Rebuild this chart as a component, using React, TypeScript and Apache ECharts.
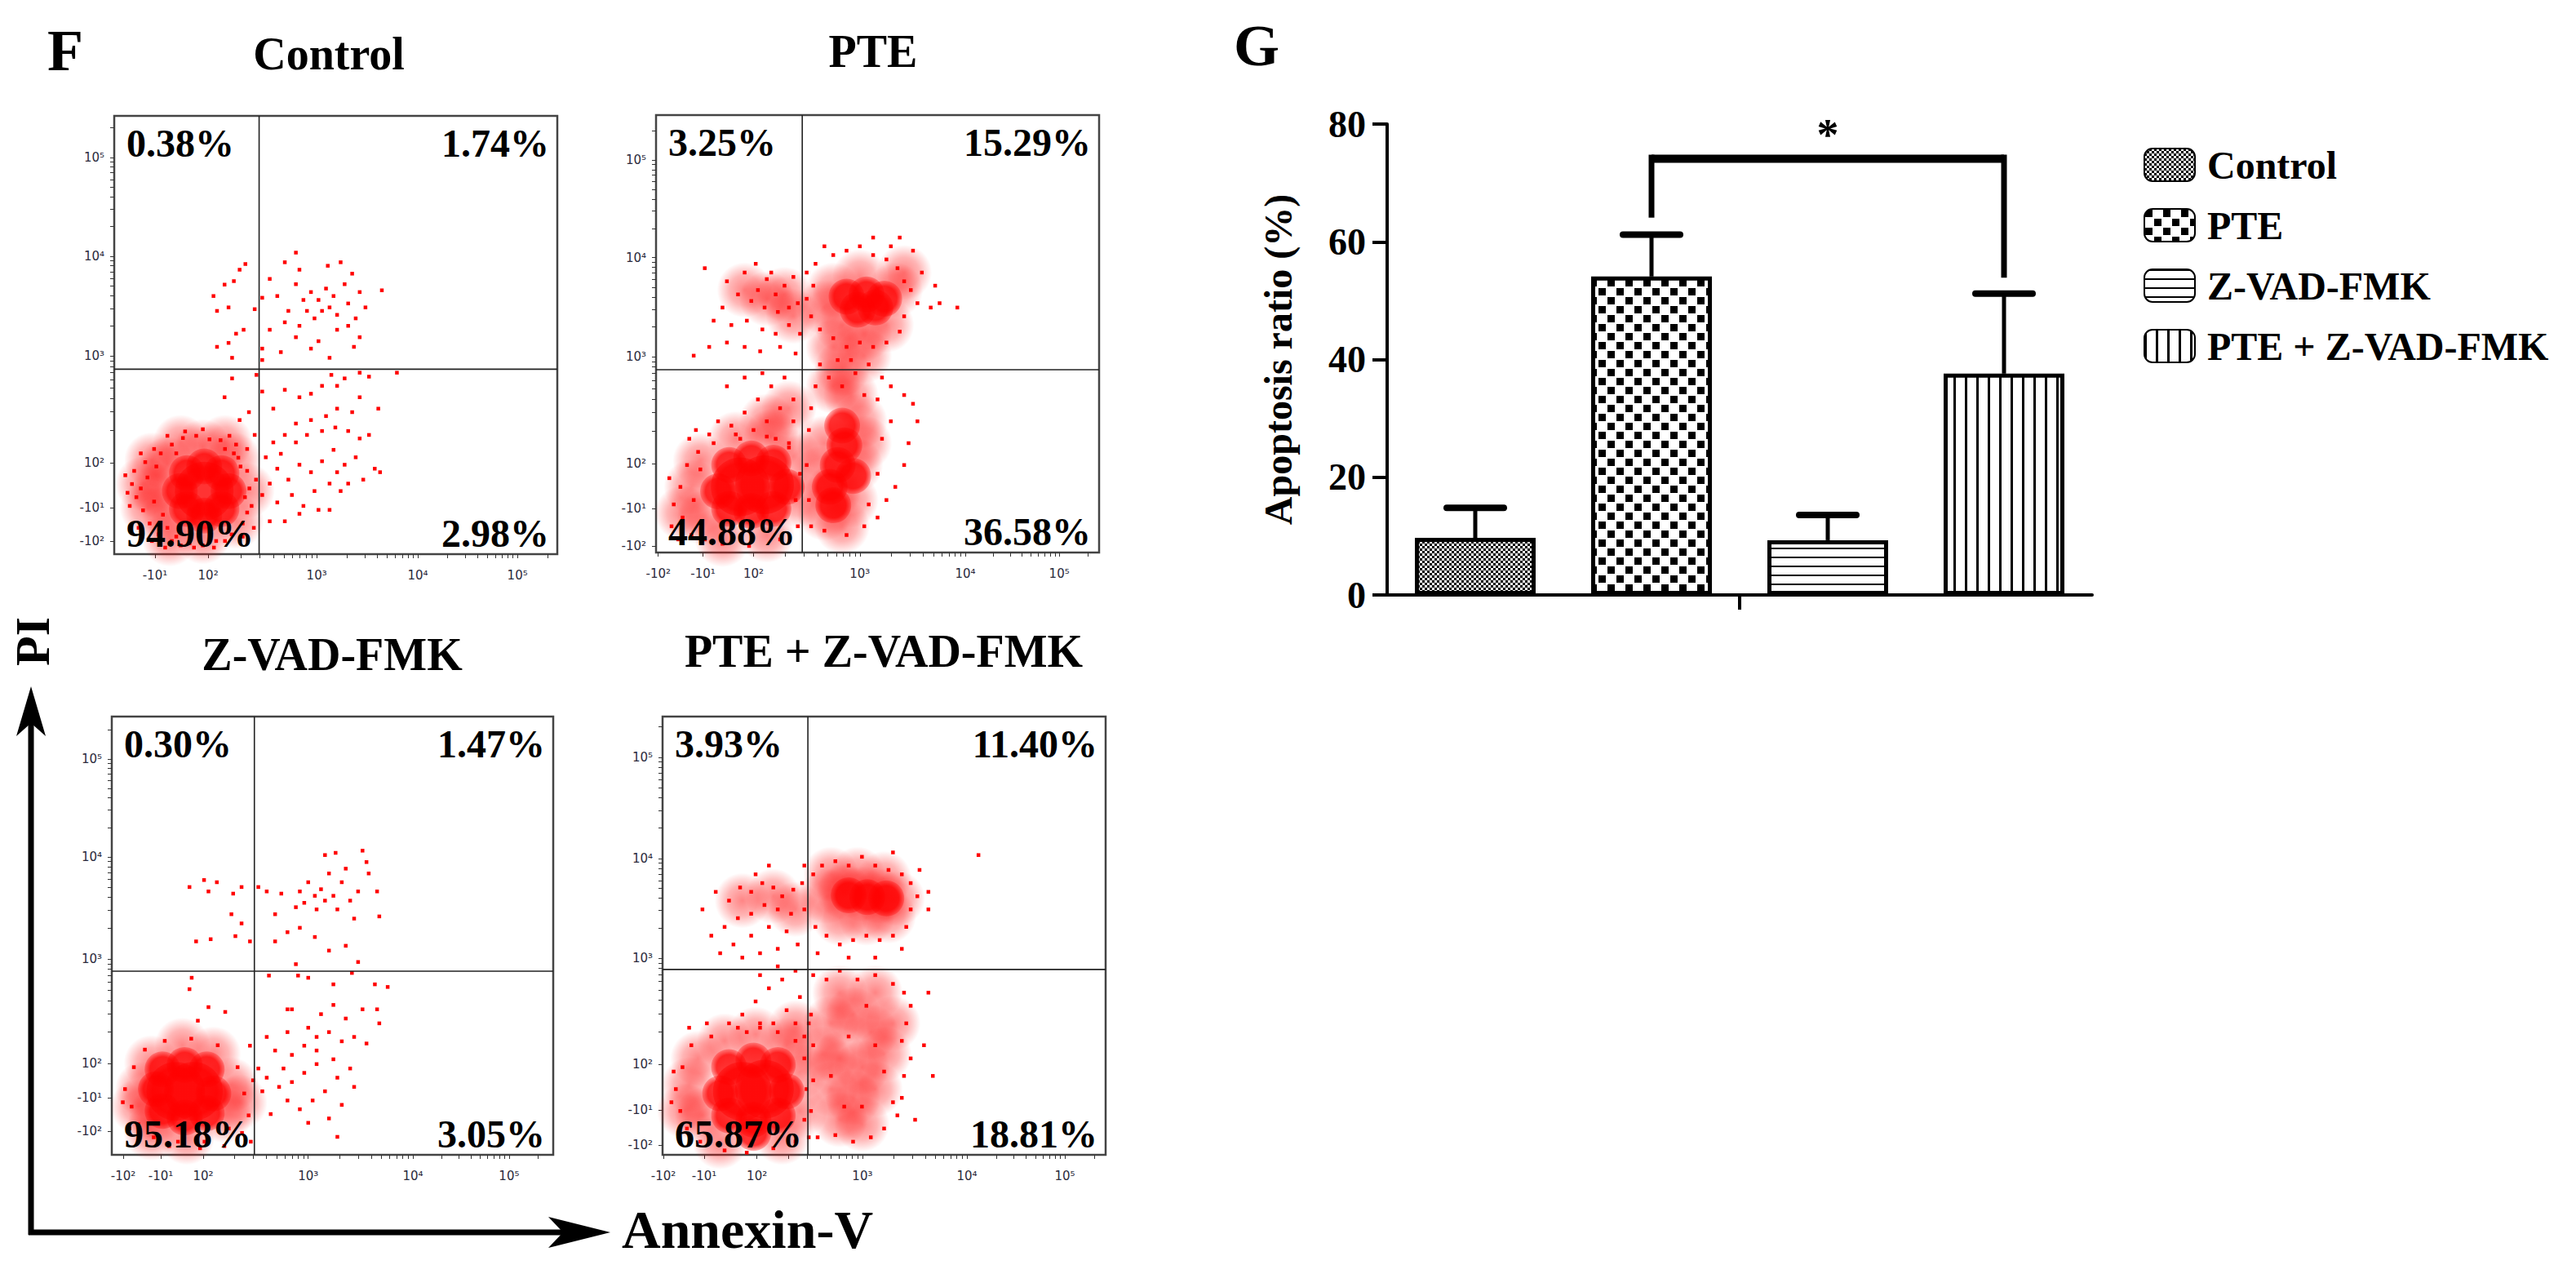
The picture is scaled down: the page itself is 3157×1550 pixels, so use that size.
import React, { useEffect, useRef } from 'react';
import * as echarts from 'echarts';

const SERIF = '"Liberation Serif", "Times New Roman", serif';
const SANS = '"DejaVu Sans", Verdana, sans-serif';
const RED = '#ff0000';

// ---------------- Panel F : flow cytometry (display channel units 0..1000) ----------------
const flowTitles = ['Control', 'PTE', 'Z-VAD-FMK', 'PTE + Z-VAD-FMK'];
const quadUL = ['0.38%', '3.25%', '0.30%', '3.93%'];
const quadUR = ['1.74%', '15.29%', '1.47%', '11.40%'];
const quadLL = ['94.90%', '44.88%', '95.18%', '65.87%'];
const quadLR = ['2.98%', '36.58%', '3.05%', '18.81%'];
const gateX = [327, 330, 323, 328];
const gateY = [422, 418, 419, 423];

const xTickText = [
  ['-10¹', '10²', '10³', '10⁴', '10⁵'],
  ['-10²', '-10¹', '10²', '10³', '10⁴', '10⁵'],
  ['-10²', '-10¹', '10²', '10³', '10⁴', '10⁵'],
  ['-10²', '-10¹', '10²', '10³', '10⁴', '10⁵'],
];
const xTickPos = [
  [92, 212, 457, 685, 910],
  [5, 106, 220, 460, 698, 910],
  [26, 111, 207, 445, 682, 900],
  [2, 94, 213, 451, 687, 908],
];
const yTickText = ['-10²', '-10¹', '10²', '10³', '10⁴', '10⁵'];
const yTickPos = [
  [30, 106, 209, 452, 680, 905],
  [15, 101, 203, 448, 674, 897],
  [54, 130, 209, 447, 680, 903],
  [22, 102, 207, 449, 676, 907],
];

// Control
const ctrlCore = [[203, 144]];
const ctrlBlob = [[258, 144], [242, 185], [203, 200], [164, 185], [148, 144], [164, 103], [203, 88], [242, 103]];
const ctrlHaze = [[100, 144], [120, 205], [125, 85], [200, 245], [270, 215], [300, 145], [275, 75], [200, 40], [125, 35], [65, 160], [75, 105], [150, 255], [250, 255], [85, 215]];
const ctrlDots = [
  [60, 150], [75, 175], [90, 120], [95, 200], [110, 90], [105, 230], [120, 60], [130, 250], [140, 40], [155, 265], [170, 25], [185, 270], [200, 20], [215, 262], [230, 30], [250, 240], [265, 45], [280, 220], [290, 70], [300, 190], [310, 110], [305, 150], [295, 130], [285, 200], [270, 230], [250, 30], [225, 15], [180, 15], [150, 20], [130, 30], [100, 45], [80, 70], [65, 100], [50, 130], [40, 160], [45, 190], [70, 210], [90, 240], [120, 270], [160, 280], [200, 285], [240, 260], [275, 250], [300, 240], [315, 60], [320, 170], [35, 110], [55, 60], [85, 30], [115, 15], [60, 230], [30, 140], [25, 180], [300, 95], [290, 40], [140, 230], [260, 270],
  [224, 589], [249, 615], [270, 623], [296, 662], [283, 649], [258, 563], [232, 555], [275, 503], [292, 512], [258, 482], [232, 473], [266, 448], [317, 559], [334, 585], [351, 628], [368, 589], [385, 666], [393, 555], [410, 616], [418, 649], [427, 580], [435, 555], [444, 598], [461, 580], [469, 555], [478, 606], [482, 658], [486, 563], [495, 589], [503, 546], [511, 666], [520, 616], [528, 572], [537, 640], [545, 538], [554, 598], [567, 563], [604, 602], [528, 521], [554, 495], [486, 448], [461, 486], [444, 469], [376, 461], [334, 443], [385, 529], [351, 512], [334, 469], [418, 521], [410, 495], [452, 538], [503, 512], [541, 473], [410, 688],
  [334, 371], [359, 332], [385, 375], [418, 358], [444, 366], [469, 384], [490, 409], [503, 384], [520, 401], [554, 414], [575, 405], [638, 414], [554, 358], [537, 324], [503, 332], [478, 315], [444, 306], [410, 298], [385, 272], [359, 255], [342, 221], [376, 229], [410, 255], [435, 272], [469, 281], [499, 289], [528, 281], [554, 264], [575, 272], [596, 332], [588, 195], [562, 170], [545, 221], [520, 204], [495, 238], [469, 212], [444, 187], [418, 204], [393, 170], [368, 195], [351, 161], [334, 135], [368, 118], [401, 135], [427, 110], [452, 144], [486, 161], [511, 144], [486, 101], [461, 101], [418, 92], [351, 75], [385, 75], [600, 187], [503, 187], [528, 161], [266, 401], [304, 324], [283, 306], [317, 272], [249, 358], [321, 409],
];

// PTE
const pteCore = [[190, 150], [245, 155]];
const pteBlob = [[140, 140], [295, 150], [215, 215], [215, 95], [165, 200], [265, 205], [165, 100], [265, 100], [420, 290], [425, 245], [410, 200], [392, 150], [400, 108], [445, 175], [430, 585], [475, 590], [515, 580], [455, 555], [495, 560]];
const pteHaze = [[80, 150], [100, 210], [110, 80], [180, 260], [260, 265], [310, 220], [320, 120], [250, 40], [150, 30], [60, 90], [400, 140], [440, 120], [380, 90], [450, 200], [460, 300], [380, 250], [440, 360], [400, 380], [370, 180], [470, 250], [420, 60], [400, 600], [540, 600], [460, 630], [420, 520], [520, 520], [470, 500], [560, 640], [380, 560], [290, 590], [250, 580], [310, 540], [200, 600], [420, 420], [470, 450], [400, 470], [300, 330], [250, 300]];
const pteDots = [
  [110, 650], [160, 620], [200, 640], [230, 600], [250, 625], [270, 590], [290, 610], [310, 630], [320, 570], [300, 560], [275, 550], [245, 560], [215, 575], [185, 590], [150, 560], [130, 530], [170, 520], [205, 530], [240, 510], [270, 500], [300, 520], [325, 500], [120, 470], [160, 480], [200, 470], [235, 460], [280, 470], [315, 455], [85, 450], [260, 640], [225, 660],
  [340, 640], [360, 660], [380, 700], [400, 680], [430, 690], [460, 700], [490, 680], [520, 670], [545, 650], [560, 620], [575, 600], [590, 570], [560, 540], [550, 505], [520, 480], [490, 470], [460, 480], [430, 470], [400, 490], [370, 510], [350, 540], [340, 580], [355, 610], [600, 640], [620, 560], [640, 570], [530, 700], [490, 720], [550, 720], [580, 690], [630, 610], [680, 560],
  [370, 430], [390, 400], [420, 380], [450, 410], [480, 430], [510, 400], [530, 380], [470, 360], [440, 440], [410, 440], [360, 380], [500, 350], [560, 360], [580, 340], [590, 300], [570, 250], [560, 200], [540, 150], [520, 120], [500, 80], [470, 60], [430, 40], [380, 50], [350, 60], [345, 120], [340, 200], [345, 280], [350, 330], [510, 260], [530, 300], [500, 180], [480, 110],
  [170, 290], [200, 320], [230, 350], [260, 380], [290, 400], [310, 350], [280, 330], [250, 300], [220, 280], [310, 300], [300, 250], [270, 260], [190, 260], [140, 300], [120, 270], [240, 410], [200, 400], [160, 380], [90, 280],
  [40, 110], [55, 150], [60, 80], [70, 200], [80, 40], [95, 230], [110, 30], [130, 250], [150, 20], [180, 270], [210, 15], [250, 265], [280, 30], [300, 240], [320, 60], [325, 180], [315, 120], [35, 60], [50, 30], [30, 170], [75, 260], [100, 190], [85, 120],
];

// Z-VAD-FMK
const zvCore = [[145, 145], [185, 145]];
const zvBlob = [[100, 150], [230, 140], [165, 205], [165, 85], [115, 195], [215, 195], [115, 100], [215, 95]];
const zvHaze = [[70, 150], [90, 210], [100, 90], [160, 250], [230, 230], [270, 160], [255, 90], [170, 40], [90, 50], [290, 120], [60, 110]];
const zvDots = [
  [30, 150], [45, 110], [50, 200], [60, 70], [75, 240], [95, 40], [120, 260], [150, 30], [180, 265], [210, 30], [240, 250], [265, 60], [285, 200], [300, 140], [310, 90], [295, 50], [255, 20], [200, 15], [130, 20], [40, 60], [25, 120], [320, 170], [315, 30],
  [176, 611], [209, 627], [219, 601], [238, 622], [275, 596], [294, 611], [271, 549], [294, 528], [191, 487], [224, 492], [280, 499], [313, 487], [332, 611], [351, 601], [370, 549], [384, 596], [398, 508], [417, 565], [426, 601], [445, 622], [460, 591], [474, 606], [483, 580], [492, 642], [502, 591], [511, 560], [521, 622], [530, 653], [540, 580], [549, 539], [558, 601], [568, 694], [577, 668], [582, 642], [601, 601], [606, 544], [460, 497], [492, 466], [530, 477], [426, 518], [370, 487], [417, 435], [558, 440], [483, 684], [507, 689], [464, 560], [436, 575],
  [356, 409], [422, 409], [445, 404], [502, 389], [544, 415], [596, 389], [625, 383], [568, 332], [530, 311], [502, 342], [474, 321], [445, 290], [408, 332], [398, 280], [370, 238], [408, 228], [436, 249], [464, 269], [492, 280], [521, 259], [549, 269], [577, 254], [464, 207], [436, 187], [408, 166], [379, 155], [351, 176], [332, 197], [502, 218], [540, 197], [549, 155], [511, 176], [483, 145], [455, 124], [426, 104], [398, 124], [360, 93], [445, 73], [492, 83], [521, 114], [511, 41], [341, 145], [606, 300], [601, 332], [464, 238], [389, 197], [351, 269], [398, 332],
  [176, 378], [181, 404], [195, 306], [257, 326], [219, 337], [313, 249],
];

// PTE + Z-VAD-FMK
const pzCore = [[180, 145], [230, 150]];
const pzBlob = [[130, 140], [280, 145], [205, 215], [205, 80], [150, 200], [260, 205], [150, 90], [260, 90], [205, 50], [420, 592], [462, 588], [505, 585]];
const pzHaze = [[60, 160], [80, 220], [90, 90], [140, 260], [210, 275], [280, 250], [310, 190], [310, 100], [270, 40], [130, 30], [50, 100], [300, 290], [380, 300], [430, 320], [470, 280], [400, 220], [450, 200], [500, 230], [380, 150], [430, 130], [480, 150], [400, 80], [450, 70], [520, 300], [480, 370], [400, 370], [360, 230], [370, 590], [410, 600], [450, 595], [490, 590], [530, 585], [400, 540], [460, 540], [510, 545], [440, 640], [380, 640], [500, 630], [250, 590], [180, 580], [300, 560]];
const pzDots = [
  [90, 560], [120, 600], [150, 580], [175, 610], [200, 600], [225, 620], [250, 610], [270, 590], [295, 605], [315, 620], [320, 560], [290, 550], [260, 560], [230, 570], [200, 550], [170, 540], [140, 520], [110, 500], [160, 480], [200, 500], [240, 520], [280, 510], [305, 480], [260, 470], [220, 460], [180, 450], [130, 460], [240, 660], [320, 660], [210, 640],
  [340, 640], [360, 660], [390, 670], [420, 660], [450, 680], [480, 660], [510, 650], [540, 640], [560, 620], [575, 590], [560, 560], [550, 520], [520, 500], [490, 490], [460, 500], [430, 490], [400, 480], [370, 500], [345, 520], [350, 460], [420, 450], [480, 450], [540, 470], [600, 600], [580, 650], [520, 690], [600, 560], [713, 684],
  [340, 410], [370, 400], [400, 420], [440, 400], [480, 410], [520, 390], [545, 370], [560, 340], [550, 300], [540, 260], [560, 220], [545, 180], [540, 130], [530, 90], [500, 60], [470, 40], [430, 30], [390, 45], [350, 40], [335, 100], [340, 170], [340, 250], [335, 320], [460, 340], [420, 270], [480, 250], [380, 180], [450, 110], [410, 110], [500, 190], [520, 120], [590, 250], [600, 370], [610, 180], [570, 80],
  [180, 320], [210, 350], [240, 380], [270, 400], [300, 420], [310, 360], [280, 330], [250, 300], [220, 290], [300, 300], [190, 280], [150, 300], [260, 430], [220, 410], [320, 270],
  [30, 150], [40, 100], [45, 200], [55, 60], [65, 250], [85, 30], [110, 270], [140, 10], [170, 290], [220, 300], [260, 280], [300, 260], [320, 220], [325, 150], [320, 80], [300, 30], [250, 15], [190, 5], [20, 120], [25, 190], [60, 290], [100, 300], [330, 300], [330, 40],
];

const flowCore = [ctrlCore, pteCore, zvCore, pzCore];
const flowBlob = [ctrlBlob, pteBlob, zvBlob, pzBlob];
const flowHaze = [ctrlHaze, pteHaze, zvHaze, pzHaze];
const flowDots = [ctrlDots, pteDots, zvDots, pzDots];

// ---------------- Panel G : bar chart ----------------
const barCats = ['Control', 'PTE', 'Z-VAD-FMK', 'PTE + Z-VAD-FMK'];
const barMeans = [9.7, 54.1, 9.3, 37.6];
const barSD = [5.1, 7.1, 4.3, 13.6];
const gTicks = [0, 20, 40, 60, 80];
const sigFrom = 1;
const sigTo = 3;
const sigTop = 74.1;
const sigLeftEnd = 64.1;
const sigRightEnd = 53.9;
const sigStarLevel = 78.2;

// ---------------- layout (pixels) ----------------
const FLOW_GRIDS = [
  { left: 140, top: 142, width: 543, height: 537 },
  { left: 804, top: 141, width: 543, height: 536 },
  { left: 137, top: 878, width: 541, height: 537 },
  { left: 812, top: 878, width: 543, height: 537 },
];
const TITLE_POS = [[403, 66], [1070, 63], [407, 802], [1083, 798]];
const BAR_GRID = { left: 1700, top: 152, width: 864, height: 577 };

function minorTicks(pos: number[], text: string[]) {
  const dec = ['10²', '10³', '10⁴', '10⁵'].map((t) => pos[text.indexOf(t)]);
  const out: number[] = pos.slice();
  for (let k = 0; k < dec.length; k++) {
    const a = dec[k];
    const span = k < dec.length - 1 ? dec[k + 1] - a : dec[k] - dec[k - 1];
    for (let j = 2; j <= 9; j++) {
      const v = a + Math.log10(j) * span;
      if (v < 1000) out.push(v);
    }
  }
  return out;
}

function labelFor(pos: number[], text: string[], v: number) {
  for (let i = 0; i < pos.length; i++) if (Math.abs(pos[i] - v) < 0.5) return text[i];
  return '';
}

function makePattern(w: number, h: number, draw: (c: CanvasRenderingContext2D) => void) {
  const cv = document.createElement('canvas');
  cv.width = w;
  cv.height = h;
  const ctx = cv.getContext('2d') as CanvasRenderingContext2D;
  ctx.fillStyle = '#ffffff';
  ctx.fillRect(0, 0, w, h);
  ctx.fillStyle = '#000000';
  draw(ctx);
  return { image: cv, repeat: 'repeat', imageWidth: w, imageHeight: h };
}

function radial(stops: [number, string][]) {
  return {
    type: 'radial', x: 0.5, y: 0.5, r: 0.5,
    colorStops: stops.map(([offset, color]) => ({ offset, color })),
  };
}

function buildOption() {
  const tickColor = '#2b2b3c';
  const grids: any[] = FLOW_GRIDS.map((g) => ({
    ...g,
    show: true,
    borderColor: '#444',
    borderWidth: 2.5,
    backgroundColor: 'rgba(0,0,0,0)',
  }));
  grids.push({ ...BAR_GRID, show: false });

  const xAxes: any[] = FLOW_GRIDS.map((_, i) => ({
    type: 'value', gridIndex: i, min: 0, max: 1000,
    axisLine: { show: false }, splitLine: { show: false },
    axisTick: { show: true, customValues: minorTicks(xTickPos[i], xTickText[i]), length: 5, lineStyle: { color: '#333', width: 1 } },
    axisLabel: {
      show: true, customValues: xTickPos[i], margin: 18,
      formatter: (v: number) => labelFor(xTickPos[i], xTickText[i], v),
      fontFamily: SANS, fontSize: 15, color: tickColor,
    },
  }));
  const yAxes: any[] = FLOW_GRIDS.map((_, i) => ({
    type: 'value', gridIndex: i, min: 0, max: 1000,
    axisLine: { show: false }, splitLine: { show: false },
    axisTick: { show: true, customValues: minorTicks(yTickPos[i], yTickText), length: 5, lineStyle: { color: '#333', width: 1 } },
    axisLabel: {
      show: true, customValues: yTickPos[i], margin: 12,
      formatter: (v: number) => labelFor(yTickPos[i], yTickText, v),
      fontFamily: SANS, fontSize: 15, color: tickColor,
    },
  }));

  // bar chart axes
  xAxes.push({
    type: 'category', gridIndex: 4, data: barCats,
    axisLine: { show: true, lineStyle: { color: '#000', width: 4 } },
    axisTick: { show: false }, axisLabel: { show: false }, splitLine: { show: false },
  });
  xAxes.push({
    type: 'value', gridIndex: 4, min: 0, max: barCats.length, position: 'bottom',
    axisLine: { show: false }, axisLabel: { show: false }, splitLine: { show: false },
    axisTick: { show: true, customValues: [barCats.length / 2], length: 18, lineStyle: { color: '#000', width: 4 } },
  });
  yAxes.push({
    type: 'value', gridIndex: 4, min: gTicks[0], max: gTicks[gTicks.length - 1], interval: gTicks[1] - gTicks[0],
    axisLine: { show: true, lineStyle: { color: '#000', width: 4 } },
    axisTick: { show: true, length: 18, lineStyle: { color: '#000', width: 4 } },
    splitLine: { show: false },
    axisLabel: { fontFamily: SERIF, fontWeight: 'bold', fontSize: 46, color: '#000', margin: 26 },
    name: 'Apoptosis ratio (%)', nameLocation: 'middle', nameGap: 110, nameRotate: 90,
    nameTextStyle: { fontFamily: SERIF, fontWeight: 'bold', fontSize: 48, color: '#000' },
  });

  const hazeFill = radial([[0, 'rgba(255,0,0,0.6)'], [0.55, 'rgba(255,0,0,0.36)'], [1, 'rgba(255,0,0,0)']]);
  const blobFill = radial([[0, 'rgba(255,0,0,1)'], [0.7, 'rgba(255,0,0,1)'], [1, 'rgba(255,0,0,0.35)']]);
  const coreFill = radial([[0, 'rgba(255,0,0,1)'], [0.8, 'rgba(255,0,0,1)'], [1, 'rgba(255,0,0,0.5)']]);

  const series: any[] = [];
  FLOW_GRIDS.forEach((_, i) => {
    const common = { type: 'scatter', xAxisIndex: i, yAxisIndex: i, silent: true };
    series.push({ ...common, data: flowHaze[i], symbol: 'circle', symbolSize: 68, itemStyle: { color: hazeFill }, z: 1 });
    series.push({ ...common, data: flowDots[i], symbol: 'rect', symbolSize: 4.5, itemStyle: { color: RED, opacity: 1 }, z: 2 });
    series.push({ ...common, data: flowBlob[i], symbol: 'circle', symbolSize: 44, itemStyle: { color: blobFill }, z: 3 });
    series.push({ ...common, data: flowCore[i], symbol: 'circle', symbolSize: 72, itemStyle: { color: coreFill }, z: 3 });
    const gate = { type: 'line', xAxisIndex: i, yAxisIndex: i, symbol: 'none', silent: true, lineStyle: { color: '#222', width: 1.6 }, z: 6 };
    series.push({ ...gate, data: [[gateX[i], 0], [gateX[i], 1000]] });
    series.push({ ...gate, data: [[0, gateY[i]], [1000, gateY[i]]] });
  });

  const patterns = [
    makePattern(6, 6, (c) => { c.fillRect(0, 0, 3, 3); c.fillRect(3, 3, 3, 3); }),
    makePattern(22, 22, (c) => { c.fillRect(1, 1, 9, 9); c.fillRect(12, 12, 9, 9); }),
    makePattern(8, 11, (c) => { c.fillRect(0, 0, 8, 2); }),
    makePattern(14, 8, (c) => { c.fillRect(0, 0, 3, 8); }),
  ];
  barCats.forEach((name, i) => {
    series.push({
      type: 'bar', name, xAxisIndex: 4, yAxisIndex: 4,
      data: barMeans.map((v, j) => (j === i ? v : '-')),
      barWidth: 148, barGap: '-100%',
      itemStyle: { color: patterns[i], borderColor: '#000', borderWidth: 5 },
      z: 2,
    });
  });
  series.push({
    type: 'custom', xAxisIndex: 4, yAxisIndex: 4, z: 3, silent: true,
    data: barMeans.map((m, i) => [i, m, m + barSD[i]]),
    encode: { x: 0, y: [1, 2] },
    renderItem: (_p: any, api: any) => {
      const base = api.coord([api.value(0), api.value(1)]);
      const top = api.coord([api.value(0), api.value(2)]);
      return {
        type: 'group',
        children: [
          { type: 'line', shape: { x1: base[0], y1: base[1], x2: base[0], y2: top[1] }, style: { stroke: '#000', lineWidth: 5 } },
          { type: 'line', shape: { x1: base[0] - 35, y1: top[1], x2: base[0] + 35, y2: top[1] }, style: { stroke: '#000', lineWidth: 8, lineCap: 'round' } },
        ],
      };
    },
  });
  series.push({
    type: 'custom', xAxisIndex: 4, yAxisIndex: 4, z: 3, silent: true,
    data: [[sigFrom, sigTo, sigTop, sigLeftEnd, sigRightEnd, sigStarLevel]],
    encode: { x: [0, 1], y: [2, 3, 4, 5] },
    renderItem: (_p: any, api: any) => {
      const a = api.coord([api.value(0), api.value(2)]);
      const b = api.coord([api.value(1), api.value(2)]);
      const la = api.coord([api.value(0), api.value(3)]);
      const rb = api.coord([api.value(1), api.value(4)]);
      const star = api.coord([api.value(0), api.value(5)]);
      const mid = (a[0] + b[0]) / 2;
      return {
        type: 'group',
        children: [
          { type: 'line', shape: { x1: a[0], y1: a[1], x2: b[0], y2: b[1] }, style: { stroke: '#000', lineWidth: 10 } },
          { type: 'line', shape: { x1: a[0], y1: a[1] - 5, x2: la[0], y2: la[1] }, style: { stroke: '#000', lineWidth: 7 } },
          { type: 'line', shape: { x1: b[0], y1: b[1] - 5, x2: rb[0], y2: rb[1] }, style: { stroke: '#000', lineWidth: 7 } },
          { type: 'text', style: { text: '*', x: mid, y: star[1], fontFamily: SERIF, fontWeight: 'bold', fontSize: 54, fill: '#000', align: 'center', verticalAlign: 'middle' } },
        ],
      };
    },
  });

  const graphics: any[] = [];
  const txt = (text: string, x: number, y: number, size: number, align = 'center', extra: any = {}) => ({
    type: 'text', x, y, z: 100, silent: true, ...extra,
    style: { text, fontFamily: SERIF, fontWeight: 'bold', fontSize: size, fill: '#000', align, verticalAlign: 'middle' },
  });
  FLOW_GRIDS.forEach((g, i) => {
    graphics.push(txt(flowTitles[i], TITLE_POS[i][0], TITLE_POS[i][1], 56));
    graphics.push(txt(quadUL[i], g.left + 15, g.top + 33, 48, 'left'));
    graphics.push(txt(quadUR[i], g.left + g.width - 10, g.top + 33, 48, 'right'));
    graphics.push(txt(quadLL[i], g.left + 15, g.top + g.height - 26, 48, 'left'));
    graphics.push(txt(quadLR[i], g.left + g.width - 10, g.top + g.height - 26, 48, 'right'));
  });
  graphics.push(txt('F', 80, 62, 72));
  graphics.push(txt('G', 1540, 56, 72));
  graphics.push(txt('PI', 40, 786, 60, 'center', { rotation: Math.PI / 2 }));
  graphics.push(txt('Annexin-V', 762, 1506, 66, 'left'));
  graphics.push({ type: 'line', z: 100, shape: { x1: 38, y1: 1513, x2: 38, y2: 880 }, style: { stroke: '#000', lineWidth: 7 } });
  graphics.push({ type: 'polygon', z: 100, shape: { points: [[38, 841], [20, 902], [38, 886], [56, 902]] }, style: { fill: '#000' } });
  graphics.push({ type: 'line', z: 100, shape: { x1: 35, y1: 1510, x2: 700, y2: 1510 }, style: { stroke: '#000', lineWidth: 7 } });
  graphics.push({ type: 'polygon', z: 100, shape: { points: [[748, 1510], [672, 1491], [690, 1510], [672, 1529]] }, style: { fill: '#000' } });

  return {
    animation: false,
    backgroundColor: '#ffffff',
    grid: grids,
    xAxis: xAxes,
    yAxis: yAxes,
    legend: {
      data: barCats, orient: 'vertical', left: 2622, top: 173,
      itemWidth: 62, itemHeight: 40, itemGap: 26, icon: 'roundRect', selectedMode: false,
      textStyle: { fontFamily: SERIF, fontWeight: 'bold', fontSize: 48, color: '#000', lineHeight: 40, padding: [0, 0, 0, 10] },
    },
    series,
    graphic: graphics,
  };
}

export default function App() {
  const ref = useRef<HTMLDivElement | null>(null);
  useEffect(() => {
    if (!ref.current) return;
    const chart = echarts.init(ref.current, null, { renderer: 'svg', width: 3157, height: 1550 });
    chart.setOption(buildOption() as any);
    return () => chart.dispose();
  }, []);
  return (
    <div
      ref={ref}
      style={{ position: 'absolute', left: 0, top: 0, width: 3157, height: 1550, background: '#fff' }}
    />
  );
}
